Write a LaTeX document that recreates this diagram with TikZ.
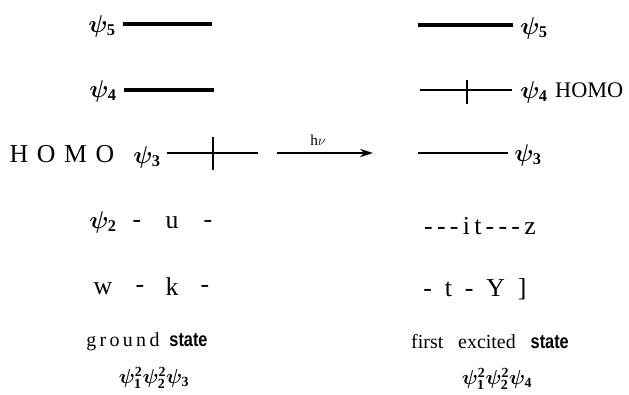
\documentclass[tikz,border=0pt]{standalone}
\usepackage{fontspec}
\usepackage{bm}
\setmainfont{Liberation Serif}
\newfontfamily\statefont{Liberation Sans}[FakeStretch=0.82]
\usetikzlibrary{positioning,calc,arrows.meta}

\newcommand{\lvlpsi}[1]{$\bm{\psi}_{\mathbf{#1}}$}

\begin{document}
\begin{tikzpicture}[
    x=0.03cm, y=-0.03cm,
    level/.style={line width=2.6pt},
    thinlevel/.style={line width=1.6pt},
    spin/.style={line width=1.3pt},
    arrow/.style={-{Stealth[length=11pt,width=7pt]}, line width=1.5pt},
    psilab/.style={font=\fontsize{20}{21}\selectfont, inner sep=0pt},
    config/.style={font=\fontsize{17}{18}\selectfont, inner sep=0pt},
    big/.style={font=\fontsize{22}{24}\selectfont, inner sep=0pt},
    small/.style={font=\fontsize{17}{18}\selectfont, inner sep=0pt}
]
    \useasboundingbox (0,0) rectangle (629,394);

    % Ground state levels
    \node[psilab] (g5) at (102,26) {\lvlpsi5};
    \draw[level] (123,24) coordinate (g5a) -- (212,24) coordinate (g5b);
    \node[psilab] (g4) at (103,91) {\lvlpsi4};
    \draw[level] (124,90) coordinate (g4a) -- (214,90) coordinate (g4b);
    \node[big] (homoL) at (62,154) {H\,\,O\,\,M\,\,O};
    \node[psilab] (g3) at (147,157) {\lvlpsi3};
    \draw[thinlevel] (167,153) coordinate (g3a) -- (258,153) coordinate (g3b);
    \draw[spin] (213,137) -- (213,170);

    % Excitation
    \coordinate (hvA) at (277,153);
    \coordinate (hvB) at (373,153);
    \draw[arrow] (hvA) -- (hvB);
    \node[font=\fontsize{13}{14}\selectfont] (hv) at (318,140) {h$\nu$};

    % Excited state levels
    \draw[level, line width=3.2pt] (418,25) coordinate (e5a) -- (513,25) coordinate (e5b);
    \node[psilab] (e5) at (534,28) {\lvlpsi5};
    \draw[thinlevel] (420,90) coordinate (e4a) -- (512,90) coordinate (e4b);
    \draw[spin] (467,80) -- (467,104);
    \node[psilab] (e4) at (534,92) {\lvlpsi4};
    \node[font=\fontsize{19}{20}\selectfont, inner sep=0pt, anchor=west] (homoR) at (555,90) {HOMO};
    \draw[thinlevel, line width=2pt] (418,153) coordinate (e3a) -- (508,153) coordinate (e3b);
    \node[psilab] (e3) at (528,155) {\lvlpsi3};

    % Lower rows
    \node[psilab] (g2) at (103,222) {\lvlpsi2};
    \node[big] (g2a) at (137,224) {-};
    \node[big] (g2b) at (172,223) {u};
    \node[big] (g2c) at (208,224) {-};
    \node[big] (e2) at (480,226) {-\,-\,-\,i\,t\,-\,-\,-\,z};

    \node[big] (g1a) at (103,289) {w};
    \node[big] (g1b) at (140,289) {-};
    \node[big] (g1c) at (172,287) {k};
    \node[big] (g1d) at (205,289) {-};
    \node[big] (e1) at (475,289) {-\ \ t\ \ -\ \ Y\ \ ]};

    % State names
    \node[small] (gs) at (147,342) {g\,r\,o\,u\,n\,d\ \ {\statefont\bfseries state}};
    \node[small] (es) at (490,342) {first\ \ \ excited\ \ \ {\statefont\bfseries state}};
    \node[config] (gc) at (154,378) {$\bm{\psi}_{\mathbf 1}^{\mathbf 2}\bm{\psi}_{\mathbf 2}^{\mathbf 2}\bm{\psi}_{\mathbf 3}$};
    \node[config] (ec) at (497,379) {$\bm{\psi}_{\mathbf 1}^{\mathbf 2}\bm{\psi}_{\mathbf 2}^{\mathbf 2}\bm{\psi}_{\mathbf 4}$};
\end{tikzpicture}
\end{document}
